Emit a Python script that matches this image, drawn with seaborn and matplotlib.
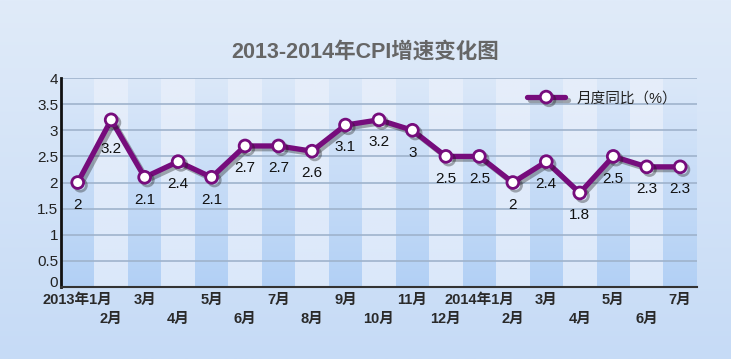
import numpy as np
import pandas as pd
import matplotlib.pyplot as plt
import matplotlib.patheffects as pe
import matplotlib.transforms as mtransforms
from matplotlib.colors import LinearSegmentedColormap
import seaborn as sns

sns.set_theme(style="white")
plt.rcParams['font.family'] = ['Liberation Sans', 'Noto Sans CJK SC', 'DejaVu Sans']

# Data
months = ['2013年1月', '2月', '3月', '4月', '5月', '6月', '7月', '8月', '9月', '10月',
          '11月', '12月', '2014年1月', '2月', '3月', '4月', '5月', '6月', '7月']
cpi = [2, 3.2, 2.1, 2.4, 2.1, 2.7, 2.7, 2.6, 3.1, 3.2, 3, 2.5, 2.5, 2, 2.4, 1.8, 2.5, 2.3, 2.3]
y_ticks = [0, 0.5, 1, 1.5, 2, 2.5, 3, 3.5, 4]

PURPLE = '#760c7c'

df = pd.DataFrame({'pos': range(len(months)), 'cpi': cpi})

fig = plt.figure(figsize=(7.31, 3.59), dpi=100)

# figure background gradient
bg = fig.add_axes([0, 0, 1, 1], zorder=-10)
bg_cmap = LinearSegmentedColormap.from_list('bg', ['#c6dbf6', '#e0ebf9'])
bg.imshow(np.linspace(0, 1, 256).reshape(-1, 1), cmap=bg_cmap, aspect='auto',
          extent=(0, 1, 0, 1), origin='lower')
bg.axis('off')

ax = fig.add_axes([0.0834, 0.2006, 0.870, 0.582])
ax.patch.set_alpha(0)

# alternating gradient stripes
dark_cmap = LinearSegmentedColormap.from_list('dk', ['#b2d0f5', '#dbe8f9'])
light_cmap = LinearSegmentedColormap.from_list('lt', ['#dbe8fa', '#e6eefa'])
grad = np.linspace(0, 1, 256).reshape(-1, 1)
for i in range(len(months)):
    cm = dark_cmap if i % 2 == 0 else light_cmap
    ax.imshow(grad, cmap=cm, aspect='auto', origin='lower',
              extent=(i - 0.5, i + 0.5, 0, 4), zorder=0)

for y in y_ticks[1:]:
    ax.axhline(y, color='#9fb3cc', lw=1.2, zorder=1)

sns.lineplot(data=df, x='pos', y='cpi', ax=ax, color=PURPLE, lw=3.8, zorder=3,
             marker='o', markersize=8.5, markerfacecolor='white',
             markeredgecolor=PURPLE, markeredgewidth=2,
             path_effects=[pe.SimpleLineShadow(offset=(2, -2), alpha=0.35), pe.Normal()],
             label='月度同比（%）')

for i, v in enumerate(cpi):
    off = -21 if i == 1 else -16
    ax.annotate(f'{v:g}', (i, v), xytext=(0, off), textcoords='offset points',
                ha='center', va='center', fontsize=11, color='#111111', zorder=4)

ax.set_xlim(-0.5, len(months) - 0.5)
ax.set_ylim(0, 4)
ax.set_yticks(y_ticks)
ax.set_yticklabels([f'{t:g}' for t in y_ticks], fontsize=11, color='#222222')

# odd months on the upper row, even months on the lower row
ax.set_xticks(range(0, len(months), 2))
ax.set_xticklabels(months[0::2], fontsize=10.5, fontweight='bold', color='#2a2a2a')
ax.set_xticks(range(1, len(months), 2), minor=True)
ax.set_xticklabels(months[1::2], minor=True, fontsize=10.5, fontweight='bold', color='#2a2a2a')
ax.tick_params(axis='x', which='major', length=0, pad=4)
ax.tick_params(axis='x', which='minor', length=0, pad=18)
ax.tick_params(axis='y', length=0, pad=2)
ax.set_xlabel('')
ax.set_ylabel('')

# lift the "0" a little so it clears the first month label
zero = ax.get_yticklabels()[0]
zero.set_transform(zero.get_transform() + mtransforms.ScaledTranslation(0, 4 / 72, fig.dpi_scale_trans))

for s in ['top', 'right']:
    ax.spines[s].set_visible(False)
ax.spines['left'].set_color('#111111')
ax.spines['left'].set_linewidth(2)
ax.spines['bottom'].set_color('#333333')
ax.spines['bottom'].set_linewidth(1.5)

leg = ax.legend(loc='upper right', frameon=False, fontsize=10.5, handlelength=2.6,
                bbox_to_anchor=(0.99, 1.0))
for t in leg.get_texts():
    t.set_color('#222222')

fig.text(0.5, 0.855, '2013-2014年CPI增速变化图', ha='center', va='center',
         fontsize=15.5, fontweight='bold', color='#666666')

fig.savefig('out.png', dpi=100)
